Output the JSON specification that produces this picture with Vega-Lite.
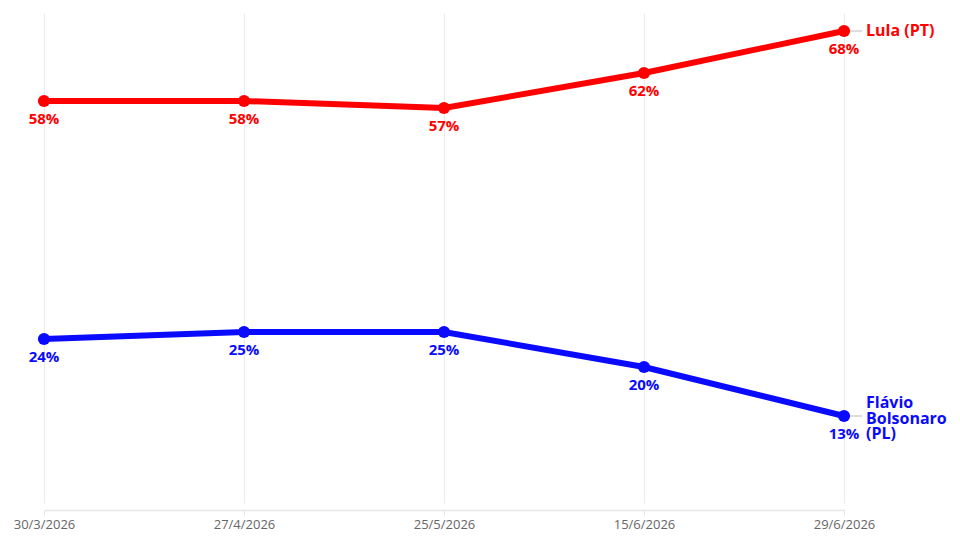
{
  "$schema": "https://vega.github.io/schema/vega-lite/v6.json",
  "width": 943,
  "height": 500,
  "autosize": "none",
  "padding": {"left": 0, "top": 10, "right": 17, "bottom": 30},
  "config": {
    "view": {"stroke": "transparent"},
    "font": "Open Sans"
  },
  "data": {
    "values": [
      {"date": "30/3/2026", "party": "Lula (PT)", "value": 58},
      {"date": "27/4/2026", "party": "Lula (PT)", "value": 58},
      {"date": "25/5/2026", "party": "Lula (PT)", "value": 57},
      {"date": "15/6/2026", "party": "Lula (PT)", "value": 62},
      {"date": "29/6/2026", "party": "Lula (PT)", "value": 68},
      {"date": "30/3/2026", "party": "Flávio\nBolsonaro\n(PL)", "value": 24},
      {"date": "27/4/2026", "party": "Flávio\nBolsonaro\n(PL)", "value": 25},
      {"date": "25/5/2026", "party": "Flávio\nBolsonaro\n(PL)", "value": 25},
      {"date": "15/6/2026", "party": "Flávio\nBolsonaro\n(PL)", "value": 20},
      {"date": "29/6/2026", "party": "Flávio\nBolsonaro\n(PL)", "value": 13}
    ]
  },
  "encoding": {
    "x": {
      "field": "date",
      "type": "ordinal",
      "sort": null,
      "title": null,
      "scale": {"type": "point", "range": [44, 844], "padding": 0},
      "axis": {
        "labelAngle": 0,
        "labelColor": "#666666",
        "labelFontSize": 13,
        "labelPadding": 3,
        "domainColor": "#e6e6e6",
        "domainWidth": 1.5,
        "tickColor": "#e6e6e6",
        "tickSize": 5,
        "grid": true,
        "gridColor": "#ebebeb"
      }
    },
    "y": {
      "field": "value",
      "type": "quantitative",
      "title": null,
      "scale": {"domain": [0, 70], "range": [497, 7], "nice": false, "zero": false},
      "axis": null
    },
    "color": {
      "field": "party",
      "type": "nominal",
      "sort": null,
      "scale": {
        "domain": ["Lula (PT)", "Flávio\nBolsonaro\n(PL)"],
        "range": ["#ff0000", "#0a0aff"]
      },
      "legend": null
    }
  },
  "layer": [
    {
      "mark": {"type": "line", "strokeWidth": 6}
    },
    {
      "mark": {"type": "point", "filled": true, "opacity": 1, "size": 150}
    },
    {
      "transform": [{"calculate": "datum.value + '%'", "as": "label"}],
      "mark": {"type": "text", "dy": 18, "fontSize": 15, "fontWeight": "bold"},
      "encoding": {
        "text": {"field": "label", "type": "nominal"}
      }
    },
    {
      "transform": [{"filter": "datum.date == '29/6/2026'"}],
      "mark": {"type": "rule", "strokeWidth": 1, "xOffset": 6, "x2Offset": 18},
      "encoding": {
        "x2": {"field": "date"},
        "color": {"value": "#bbbbbb"}
      }
    },
    {
      "transform": [{"filter": "datum.date == '29/6/2026' && datum.party == 'Lula (PT)'"}],
      "mark": {"type": "text", "align": "left", "baseline": "middle", "dx": 22, "fontSize": 16, "fontWeight": "bold"},
      "encoding": {
        "text": {"field": "party"}
      }
    },
    {
      "transform": [{"filter": "datum.date == '29/6/2026' && datum.party != 'Lula (PT)'"}],
      "mark": {"type": "text", "align": "left", "baseline": "middle", "dx": 22, "dy": -13, "fontSize": 16, "fontWeight": "bold", "lineBreak": "\n", "lineHeight": 15.5},
      "encoding": {
        "text": {"field": "party"}
      }
    }
  ]
}
